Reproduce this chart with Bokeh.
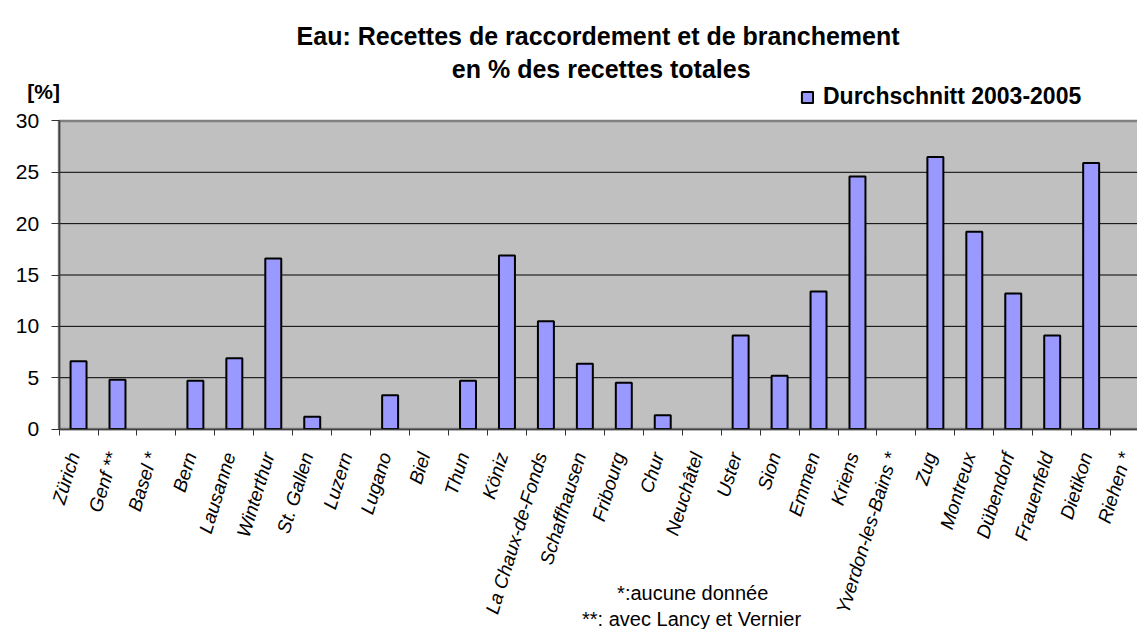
import numpy as np
from bokeh.plotting import figure
from bokeh.models import Range1d, FixedTicker, Label, Legend, LegendItem, ColumnDataSource
from bokeh.embed import file_html
from bokeh.resources import INLINE

# ---------------- data ----------------
cities = ["Zürich", "Genf **", "Basel *", "Bern", "Lausanne", "Winterthur", "St. Gallen",
          "Luzern", "Lugano", "Biel", "Thun", "Köniz", "La Chaux-de-Fonds", "Schaffhausen",
          "Fribourg", "Chur", "Neuchâtel", "Uster", "Sion", "Emmen", "Kriens",
          "Yverdon-les-Bains *", "Zug", "Montreux", "Dübendorf", "Frauenfeld", "Dietikon",
          "Riehen *"]
values = [6.6, 4.8, None, 4.7, 6.9, 16.6, 1.2,
          None, 3.3, None, 4.7, 16.9, 10.5, 6.35,
          4.5, 1.35, None, 9.1, 5.2, 13.4, 24.6,
          None, 26.5, 19.2, 13.2, 9.1, 25.9,
          None]
y_ticks = [0, 5, 10, 15, 20, 25, 30]
series_name = "Durchschnitt 2003-2005"
title_lines = ["Eau: Recettes de raccordement et de branchement", "en % des recettes totales"]
y_unit = "[%]"
footnotes = ["*:aucune donnée", "**: avec Lancy et Vernier"]

# ---------------- figure ----------------
FONT = "Liberation Sans"
n = len(cities)
centers = [i + 0.5 for i in range(n)]
bounds = [float(i) for i in range(n + 1)]
label_pos = [c - 0.12 for c in centers]   # rotated labels: top corner sits on the bar centre
tops = [np.nan if v is None else v for v in values]
y_max = y_ticks[-1]

src = ColumnDataSource(data=dict(x=centers, top=tops, city=cities))

# the frame covers the whole canvas; axes are pinned at 0 so that every text
# (titles, legend, notes) can live inside the frame without being clipped
p = figure(width=1137, height=629, output_backend="svg", toolbar_location=None,
           x_range=Range1d(-1.504, 27.69), y_range=Range1d(-19.52, 41.73),
           min_border_left=0, min_border_top=0, min_border_bottom=0, min_border_right=0)

p.background_fill_color = "white"
p.border_fill_color = "white"
p.outline_line_color = None
p.xgrid.visible = False
p.ygrid.visible = False

# plot area background
p.quad(left=[0], right=[n], bottom=[0], top=[y_max],
       fill_color="#C0C0C0", line_color="#808080", line_width=2.5)

# horizontal grid lines
inner = y_ticks[1:-1]
p.segment(x0=[0] * len(inner), x1=[n] * len(inner), y0=inner, y1=inner,
          line_color="black", line_width=1)

bars = p.vbar(x="x", top="top", width=0.41, bottom=0, source=src,
              fill_color="#9999FF", line_color="black", line_width=2)

# y axis
yax = p.yaxis[0]
yax.fixed_location = 0
yax.bounds = (0, y_max)
yax.ticker = FixedTicker(ticks=y_ticks)
yax.axis_line_color = "#404040"
yax.axis_line_width = 1.5
yax.major_tick_out = 8
yax.major_tick_in = 0
yax.major_tick_line_color = "#333333"
yax.minor_tick_line_color = None
yax.major_label_text_font = FONT
yax.major_label_text_font_size = "21px"
yax.major_label_text_color = "black"
yax.major_label_standoff = 12

# x axis
xax = p.xaxis[0]
xax.fixed_location = 0
xax.bounds = (0, n)
xax.ticker = FixedTicker(ticks=label_pos, minor_ticks=bounds)
xax.major_label_overrides = {c: name for c, name in zip(label_pos, cities)}
xax.axis_line_color = "#404040"
xax.axis_line_width = 1.5
xax.major_tick_line_color = None
xax.major_tick_out = 6
xax.major_tick_in = 0
xax.minor_tick_out = 6
xax.minor_tick_in = 0
xax.minor_tick_line_color = "#333333"
xax.major_label_orientation = 1.27
xax.major_label_text_font = FONT
xax.major_label_text_font_size = "19px"
xax.major_label_text_font_style = "italic"
xax.major_label_text_color = "black"
xax.major_label_standoff = 18

# titles
p.add_layout(Label(x=13.84, y=38.27, text=title_lines[0], text_align="center",
                   text_baseline="alphabetic", text_font=FONT, text_font_size="25px",
                   text_font_style="bold", text_color="black"))
p.add_layout(Label(x=13.92, y=35.1, text=title_lines[1], text_align="center",
                   text_baseline="alphabetic", text_font=FONT, text_font_size="25px",
                   text_font_style="bold", text_color="black"))
p.add_layout(Label(x=-0.395, y=32.84, text=y_unit, text_align="center",
                   text_baseline="middle", text_font=FONT, text_font_size="21px",
                   text_font_style="bold", text_color="black"))

# footnotes
p.add_layout(Label(x=16.27, y=-15.96, text=footnotes[0], text_align="center",
                   text_baseline="alphabetic", text_font=FONT, text_font_size="20px",
                   text_color="black"))
p.add_layout(Label(x=16.24, y=-18.53, text=footnotes[1], text_align="center",
                   text_baseline="alphabetic", text_font=FONT, text_font_size="20px",
                   text_color="black"))

# legend
legend = Legend(items=[LegendItem(label=series_name, renderers=[bars])],
                location=(800, 519), orientation="horizontal",
                background_fill_alpha=0, border_line_alpha=0, padding=0, margin=0,
                spacing=0, glyph_width=14, glyph_height=14, label_standoff=9,
                label_text_font=FONT, label_text_font_size="23px",
                label_text_font_style="bold", label_text_color="black")
p.add_layout(legend)

open("out.html", "w").write(file_html(p, INLINE))
